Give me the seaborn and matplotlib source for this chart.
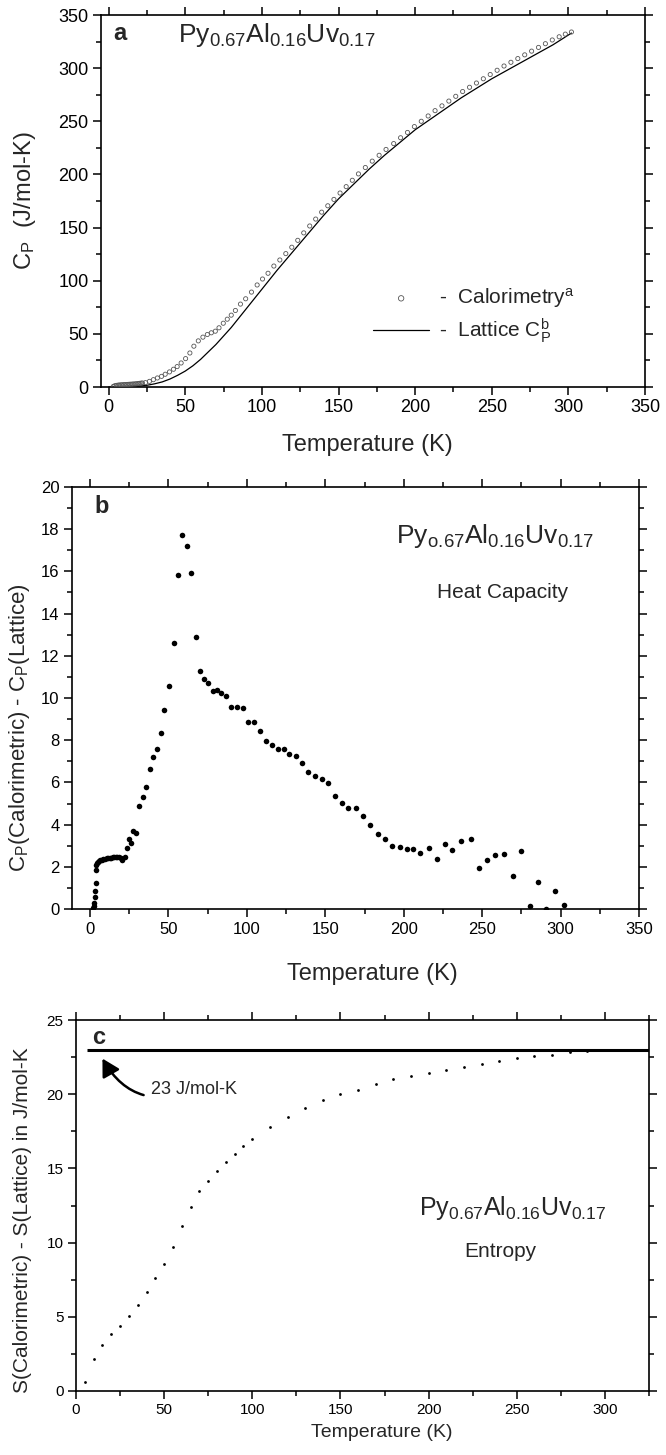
import numpy as np
import pandas as pd
import seaborn as sns
import matplotlib.pyplot as plt
from matplotlib.ticker import MultipleLocator

# ---------------- panel a: measured Cp and lattice Cp ----------------
cal_T = [3, 4, 5, 6, 7, 8, 9, 10, 11, 12, 13, 14, 15, 16, 17, 18, 19, 20, 21, 22,
         24, 26.6, 29.2, 31.8, 34.5, 36.9, 39.7, 42.3, 44.7, 47.3,
         50.2, 53, 55.6, 58.5, 61.5, 64.4, 67, 69.6, 72, 74.8,
         77.4, 80, 82.7, 86, 89.4, 93.2, 96.9, 100.4, 104, 107.8,
         111.7, 115.6, 119.5, 123.4, 127.3, 131.2, 135.1, 139, 143, 147,
         151, 155, 159, 163, 167.5, 172, 176.5, 181, 186, 190.5,
         195, 199.5, 204, 208.5, 213, 217.5, 222, 226.5, 231, 235.5,
         240, 244.5, 249, 253.5, 258, 262.5, 267, 271.5, 276, 280.5,
         285, 289.5, 294, 298, 302]
cal_Cp = [0.5, 1.2, 1.5, 1.7, 1.9, 2.0, 2.1, 2.2, 2.3, 2.4, 2.5, 2.6, 2.7, 2.8, 2.9, 3.0, 3.2, 3.4, 3.6, 3.8,
          4.1, 5.3, 6.9, 8.5, 10.0, 12.0, 14.2, 16.7, 19.2, 22.6,
          26.7, 32.0, 38.4, 43.4, 46.9, 49.4, 51.0, 52.5, 55.7, 60.0,
          63.8, 67.6, 72.0, 78.0, 83.0, 89.3, 96.0, 101.6, 107.0, 113.8,
          119.5, 125.5, 131.5, 138.0, 145.0, 151.5, 158.0, 164.5, 170.5, 176.5,
          182.5, 188.5, 194.5, 200.5, 206.5, 212.5, 218.0, 223.5, 229.0, 234.5,
          239.5, 245.0, 250.0, 255.0, 260.0, 264.5, 269.0, 273.5, 278.0, 282.0,
          286.0, 290.0, 294.0, 298.0, 302.0, 305.5, 309.0, 312.5, 316.0, 319.5,
          323.0, 326.5, 329.5, 332.0, 334.0]

lat_T = [0, 5, 10, 15, 20, 25, 30, 35, 40, 45, 50, 55, 60, 65, 70, 75, 80, 85, 90, 95,
         100, 110, 120, 130, 140, 150, 160, 170, 180, 190, 200, 210, 220, 230, 240,
         250, 260, 270, 280, 290, 302]
lat_Cp = [0, 0.1, 0.3, 0.6, 0.9, 1.6, 3.0, 4.8, 7.5, 11.0, 15.0, 20.0, 26.0, 33.0, 40.0,
          48.0, 56.0, 65.0, 74.0, 83.0, 92.0, 110.0, 127.0, 144.0, 161.0, 177.0, 191.0,
          205.0, 218.0, 230.0, 242.0, 252.0, 262.0, 272.0, 281.0, 290.0, 298.0, 306.0,
          314.0, 322.0, 333.0]

# ---------------- panel b: excess heat capacity ----------------
dcp_T = [2.0, 2.3, 2.6, 2.9, 3.2, 3.5, 3.8, 4.1, 4.4, 4.8,
         5.5, 6.5, 7.5, 8.5, 9.5, 10.5, 11.5, 12.5, 13.5, 14.5, 15.5, 16.5, 17.5, 18.5, 19.5, 20.6, 22.3,
         23.4, 24.9, 26.4, 27.7, 29.4, 31.3, 33.6, 35.7, 38.3, 40.4,
         42.8, 45.1, 47.4, 50.4, 53.4, 56.0, 58.7, 61.7, 64.5, 67.4,
         70.2, 72.6, 75.3, 78.3, 80.9, 83.4, 86.4, 89.8, 93.6, 97.7,
         100.9, 104.7, 108.5, 112.2, 115.8, 119.6, 123.6, 126.6, 131.3, 135.0,
         139.1, 143.5, 147.6, 151.6, 156.3, 160.6, 164.7, 169.6, 174.2, 178.8,
         183.4, 187.8, 192.4, 197.6, 202.4, 206.0, 210.3, 215.8, 220.9, 226.4,
         231.0, 236.7, 242.7, 248.1, 253.0, 258.2, 264.1, 269.6, 274.5, 280.2,
         285.9, 291.0, 296.7, 302.2]
dcp_val = [0.05, 0.15, 0.3, 0.55, 0.85, 1.25, 1.85, 2.1, 2.2, 2.25,
           2.27, 2.3, 2.33, 2.36, 2.38, 2.4, 2.42, 2.43, 2.44, 2.45, 2.45, 2.45, 2.45, 2.45, 2.44, 2.32, 2.45,
           2.88, 3.32, 3.11, 3.68, 3.62, 4.87, 5.3, 5.8, 6.64, 7.22,
           7.59, 8.33, 9.44, 10.59, 12.62, 15.81, 17.71, 17.22, 15.92, 12.9,
           11.3, 10.9, 10.72, 10.32, 10.4, 10.23, 10.1, 9.55, 9.55, 9.53,
           8.84, 8.84, 8.43, 7.94, 7.78, 7.58, 7.6, 7.35, 7.24, 6.94,
           6.51, 6.28, 6.16, 5.99, 5.36, 5.04, 4.77, 4.8, 4.4, 3.96,
           3.57, 3.31, 3.0, 2.92, 2.84, 2.84, 2.66, 2.9, 2.39, 3.09,
           2.8, 3.23, 3.34, 1.95, 2.33, 2.55, 2.63, 1.58, 2.76, 0.13,
           1.28, 0.02, 0.86, 0.17]

# ---------------- panel c: excess entropy ----------------
ds_T = [5, 10, 15, 20, 25, 30, 35, 40, 45, 50, 55, 60, 65, 70, 75, 80, 85, 90, 95, 100,
        110, 120, 130, 140, 150, 160, 170, 180, 190, 200, 210, 220, 230, 240, 250,
        260, 270, 280, 290]
ds_val = [0.63, 2.14, 3.13, 3.83, 4.41, 5.07, 5.81, 6.67, 7.59, 8.56,
          9.73, 11.1, 12.43, 13.45, 14.14, 14.82, 15.45, 15.99, 16.51, 17.0,
          17.82, 18.49, 19.07, 19.6, 19.98, 20.3, 20.68, 21.0, 21.22, 21.42,
          21.6, 21.83, 22.05, 22.22, 22.45, 22.55, 22.63, 22.83, 22.94]
S_LIMIT = 23  # J/mol-K

FORMULA_A = "Py$_{0.67}$Al$_{0.16}$Uv$_{0.17}$"
FORMULA_B = r"Py$_{o.\!67}$Al$_{0.16}$Uv$_{0.17}$"   # "o.67" as printed in the original

# ---------------- style ----------------
sns.set_style("ticks")
plt.rcParams["font.family"] = ["Liberation Sans", "DejaVu Sans"]
plt.rcParams["mathtext.default"] = "regular"
plt.rcParams["axes.edgecolor"] = "black"

W, H = 666, 1455
fig = plt.figure(figsize=(W / 100, H / 100), dpi=100)


def add_panel(left, top, right, bottom):
    """axes placed by pixel edges of the reference"""
    return fig.add_axes([left / W, 1 - bottom / H, (right - left) / W, (bottom - top) / H])


def style_ticks(ax, xmaj, xmin, ymaj, ymin, size):
    ax.xaxis.set_major_locator(MultipleLocator(xmaj))
    ax.xaxis.set_minor_locator(MultipleLocator(xmin))
    ax.yaxis.set_major_locator(MultipleLocator(ymaj))
    ax.yaxis.set_minor_locator(MultipleLocator(ymin))
    ax.tick_params(which="both", direction="out", top=True, right=True,
                   width=1.1, colors="black")
    ax.tick_params(which="major", length=6, labelsize=size, pad=3)
    ax.tick_params(which="minor", length=3.5)
    for sp in ax.spines.values():
        sp.set_visible(True)
        sp.set_color("black")
        sp.set_linewidth(1.2)


# --- panel a
ax_a = add_panel(101, 15, 645, 387)
sns.scatterplot(x=cal_T, y=cal_Cp, ax=ax_a, marker="o", s=9, color="#555555",
                facecolors="none", edgecolor="#555555", linewidth=0.6,
                label="-  Calorimetry$^{a}$", zorder=3)
sns.lineplot(x=lat_T, y=lat_Cp, ax=ax_a, color="black", linewidth=0.9,
             label="-  Lattice C$_P^{b}$")
ax_a.set_xlim(-5, 350)
ax_a.set_ylim(0, 350)
style_ticks(ax_a, 50, 25, 50, 25, 13)
ax_a.legend(loc="center left", bbox_to_anchor=(0.50, 0.192), frameon=False, fontsize=15,
            handlelength=2.7, handletextpad=0.45, labelspacing=0.3, borderpad=0,
            borderaxespad=0, markerscale=1.3)
ax_a.text(0.022, 0.933, "a", transform=ax_a.transAxes, fontsize=17,
          fontweight="bold", ha="left", va="baseline")
ax_a.text(0.1415, 0.927, FORMULA_A, transform=ax_a.transAxes, fontsize=19,
          ha="left", va="baseline")
ax_a.set_xlabel("Temperature (K)", fontsize=17)
ax_a.set_ylabel("C$_P$  (J/mol-K)", fontsize=17)
ax_a.xaxis.set_label_coords(0.49, -0.125)
ax_a.yaxis.set_label_coords(-0.115, 0.5)

# --- panel b
ax_b = add_panel(72, 487, 639, 909)
sns.scatterplot(x=dcp_T, y=dcp_val, ax=ax_b, s=16, color="black",
                edgecolor="black", linewidth=0, legend=False)
ax_b.set_xlim(-11.5, 350)
ax_b.set_ylim(0, 20)
style_ticks(ax_b, 50, 25, 2, 1, 12)
ax_b.text(0.04, 0.938, "b", transform=ax_b.transAxes, fontsize=17,
          fontweight="bold", ha="left", va="baseline")
ax_b.text(0.571, 0.867, FORMULA_B, transform=ax_b.transAxes, fontsize=19,
          ha="left", va="baseline")
ax_b.text(0.76, 0.75, "Heat Capacity", transform=ax_b.transAxes, fontsize=15,
          ha="center", va="center")
ax_b.set_xlabel("Temperature (K)", fontsize=17)
ax_b.set_ylabel("C$_P$(Calorimetric) - C$_P$(Lattice)", fontsize=16)
ax_b.xaxis.set_label_coords(0.53, -0.128)
ax_b.yaxis.set_label_coords(-0.07, 0.43)

# --- panel c
ax_c = add_panel(76, 1020, 649, 1391)
sns.scatterplot(x=ds_T, y=ds_val, ax=ax_c, s=4, color="black",
                edgecolor="black", linewidth=0, legend=False)
ax_c.hlines(S_LIMIT, 6, 325, color="black", linewidth=2.2, zorder=3)
ax_c.set_xlim(0, 325)
ax_c.set_ylim(0, 25)
style_ticks(ax_c, 50, 25, 5, 2.5, 11)
ax_c.text(0.028, 0.935, "c", transform=ax_c.transAxes, fontsize=17,
          fontweight="bold", ha="left", va="baseline")
ax_c.annotate("23 J/mol-K", xy=(15, 22.4), xytext=(42.5, 20.35), fontsize=13,
              ha="left", va="center",
              arrowprops=dict(arrowstyle="-|>,head_length=0.8,head_width=0.45",
                              connectionstyle="arc3,rad=-0.45", color="black",
                              lw=1.8, shrinkA=3, shrinkB=0))
ax_c.text(0.598, 0.474, FORMULA_A, transform=ax_c.transAxes, fontsize=18,
          ha="left", va="baseline")
ax_c.text(0.74, 0.375, "Entropy", transform=ax_c.transAxes, fontsize=15,
          ha="center", va="center")
ax_c.set_xlabel("Temperature (K)", fontsize=14)
ax_c.set_ylabel("S(Calorimetric) - S(Lattice) in J/mol-K", fontsize=15)
ax_c.xaxis.set_label_coords(0.533, -0.09)
ax_c.yaxis.set_label_coords(-0.077, 0.461)

fig.savefig("out.png", dpi=100)
